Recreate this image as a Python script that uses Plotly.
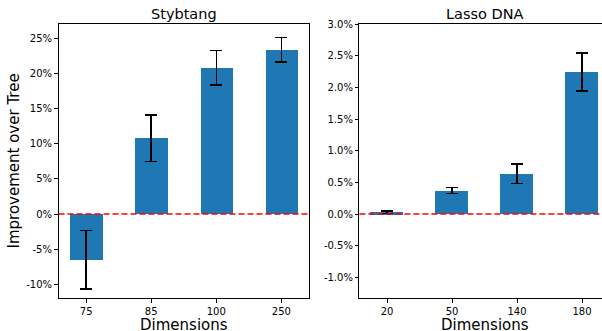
import plotly.graph_objects as go
from plotly.subplots import make_subplots

# Data
styb_dims = ["75", "85", "100", "250"]
styb_vals = [-6.5, 10.8, 20.8, 23.35]
styb_err = [4.15, 3.3, 2.45, 1.75]

lasso_dims = ["20", "50", "140", "180"]
lasso_vals = [0.03, 0.37, 0.635, 2.24]
lasso_err = [0.02, 0.045, 0.153, 0.30]

styb_ticks = [-10, -5, 0, 5, 10, 15, 20, 25]
styb_ticktext = ["-10%", "-5%", "0%", "5%", "10%", "15%", "20%", "25%"]
lasso_ticks = [-1.0, -0.5, 0.0, 0.5, 1.0, 1.5, 2.0, 2.5, 3.0]
lasso_ticktext = ["-1.0%", "-0.5%", "0.0%", "0.5%", "1.0%", "1.5%", "2.0%", "2.5%", "3.0%"]

W, H = 602, 331
BLUE = "#1f77b4"
FONT = "DejaVu Sans"

fig = make_subplots(rows=1, cols=2)

err_style = dict(type="data", thickness=1.5, width=6, color="black")

fig.add_trace(go.Bar(x=styb_dims, y=styb_vals, width=0.5, marker_color=BLUE,
                     marker_line_width=0,
                     error_y=dict(array=styb_err, **err_style)), row=1, col=1)
fig.add_trace(go.Bar(x=lasso_dims, y=lasso_vals, width=0.5, marker_color=BLUE,
                     marker_line_width=0,
                     error_y=dict(array=lasso_err, **err_style)), row=1, col=2)

y0 = 1 - 298 / H
y1 = 1 - 24 / H
px_per_unit = 65.0
left_l, left_r = 58.5, 309.0
right_l = 359.4

axis_common = dict(showline=True, linecolor="black", linewidth=1,
                   ticks="outside", ticklen=3.5, tickwidth=0.8, tickcolor="black",
                   tickfont=dict(family=FONT, size=10, color="black"),
                   showgrid=False, zeroline=False, automargin=False)

title_font = dict(family=FONT, size=15, color="black")

fig.update_xaxes(domain=[left_l / W, left_r / W], range=[-0.425, 3.425], mirror=True,
                 row=1, col=1, **axis_common)
right_range_hi = -0.425 + (W - right_l) / px_per_unit
fig.update_xaxes(domain=[right_l / W, 1.0], range=[-0.425, right_range_hi], mirror=True,
                 row=1, col=2, **axis_common)

fig.update_yaxes(domain=[y0, y1], range=[-11.95, 27.03], mirror=True,
                 tickvals=styb_ticks, ticktext=styb_ticktext,
                 row=1, col=1, **axis_common)
fig.update_yaxes(domain=[y0, y1], range=[-1.326, 3.0], mirror=False,
                 tickvals=lasso_ticks, ticktext=lasso_ticktext,
                 row=1, col=2, **axis_common)

# red dashed zero lines
for xr, yr in [("x domain", "y"), ("x2 domain", "y2")]:
    fig.add_shape(type="line", xref=xr, yref=yr, x0=0, x1=1, y0=0, y1=0,
                  line=dict(color="red", width=1.5, dash="6px,3px"), layer="above")

left_c = (left_l + left_r) / 2 / W
right_c = (right_l + 3.85 * px_per_unit / 2) / W

# axis titles
for xc in (left_c, right_c):
    fig.add_annotation(text="Dimensions", xref="paper", yref="paper",
                       x=xc, y=1 - 324.5 / H, showarrow=False, borderpad=0,
                       xanchor="center", yanchor="middle", font=title_font)
fig.add_annotation(text="Improvement over Tree", xref="paper", yref="paper",
                   x=13.5 / W, y=1 - 161 / H, showarrow=False, textangle=-90,
                   xanchor="center", yanchor="middle", font=title_font)

# titles
fig.add_annotation(text="Stybtang", xref="paper", yref="paper",
                   x=left_c, y=1 - 13.5 / H, showarrow=False,
                   xanchor="center", yanchor="middle",
                   font=dict(family=FONT, size=14.5, color="black"))
fig.add_annotation(text="Lasso DNA", xref="paper", yref="paper",
                   x=right_c, y=1 - 13.5 / H, showarrow=False,
                   xanchor="center", yanchor="middle",
                   font=dict(family=FONT, size=14.5, color="black"))

fig.update_layout(width=W, height=H, margin=dict(l=0, r=0, t=0, b=0),
                  plot_bgcolor="white", paper_bgcolor="white",
                  showlegend=False, bargap=0,
                  font=dict(family=FONT, color="black"))

fig.write_html("out.html", config={"displayModeBar": False},
               post_script="document.body.style.margin='0';document.body.style.overflow='hidden';")
